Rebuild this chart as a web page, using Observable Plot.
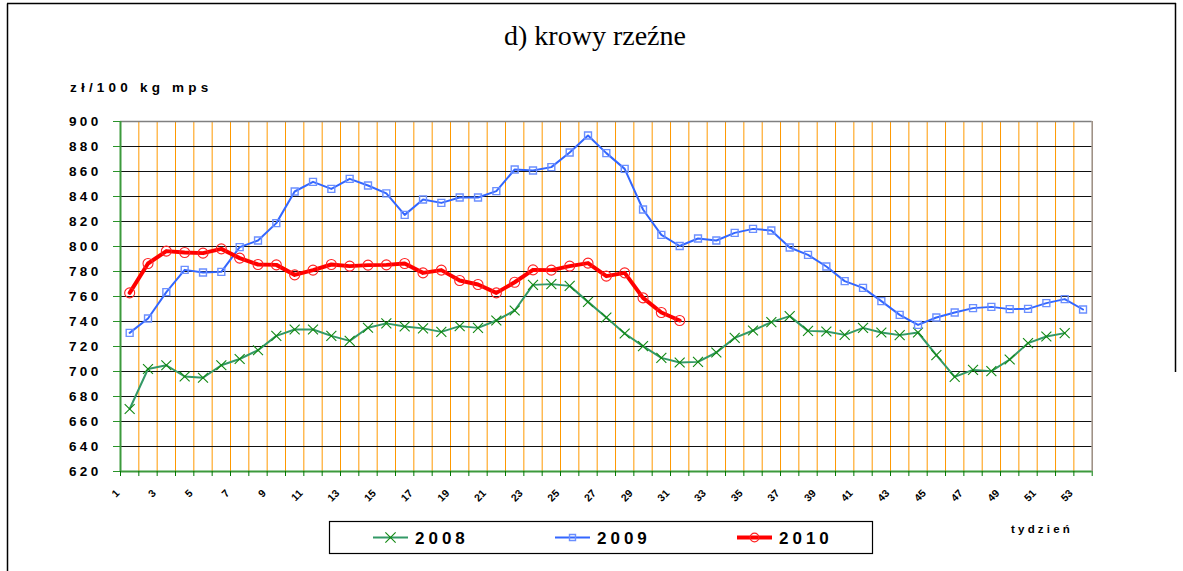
<!DOCTYPE html>
<html>
<head>
<meta charset="utf-8">
<script src="https://cdn.jsdelivr.net/npm/d3@7"></script>
<script src="https://cdn.jsdelivr.net/npm/@observablehq/plot@0.6"></script>
<style>
  html, body { margin: 0; padding: 0; background: #fff; }
  #chart { position: relative; width: 1183px; height: 571px; overflow: hidden; }
  #chart svg { display: block; }
</style>
</head>
<body>
<div id="chart"></div>
<script>
// ---- data (zł/100 kg mps, by week) ----
const years = ["2008", "2009", "2010"];
const values2008 = [670, 702, 705, 696, 695, 705, 710, 717, 728.5, 733.6, 733.6, 728.5, 724.5, 735, 738.5, 736,
  734.5, 731.7, 736.3, 734.9, 740.8, 748.8, 769.3, 769.9, 768.5, 755.7, 743.2, 730.4, 720.3, 710.9, 707.2, 707.7,
  715.2, 726.9, 732.8, 739.5, 744.3, 732.5, 732, 729.3, 734.9, 731.2, 729.1, 731.2, 713.1, 695.7, 701.3, 700.3,
  709.6, 722.7, 728, 730.7];
const values2009 = [730.9, 742.4, 763.5, 781.3, 779.2, 779.7, 799.5, 804.8, 818.7, 844, 851.7, 846.1, 854.1, 848.8,
  842.5, 825.3, 837.6, 834.9, 839.2, 839.2, 844.3, 861.6, 860.8, 863.5, 875.2, 888.8, 874.7, 862.1, 829.6, 809.3,
  800.4, 806.4, 804.8, 810.9, 814.1, 812.8, 799.2, 793.3, 784, 772.3, 766.9, 756.3, 745.3, 737.3, 743.2, 747.2,
  750.7, 751.7, 749.9, 750.1, 754.7, 757.9, 749.6];
const values2010 = [762.9, 786.4, 796.3, 795.2, 794.7, 798.1, 790.7, 785.6, 785.3, 777.3, 781.1, 785.6, 784.3, 785.1,
  785.3, 786.4, 778.9, 781.1, 772.8, 769.6, 762.9, 771.4, 781.3, 781.1, 784.3, 786.7, 776.3, 778.9, 758.9, 747.2,
  740.8];
const weekCount = 53;
const weekLabels = [1, 3, 5, 7, 9, 11, 13, 15, 17, 19, 21, 23, 25, 27, 29, 31, 33, 35, 37, 39, 41, 43, 45, 47, 49, 51, 53];
const yTicks = [620, 640, 660, 680, 700, 720, 740, 760, 780, 800, 820, 840, 860, 880, 900];
const titleText = "d) krowy rzeźne";
const yLabelText = "zł/100 kg mps";
const xLabelText = "tydzień";

const toRows = (year, vals) => vals.map((v, i) => ({year, week: i + 1, value: v}));
const rows2008 = toRows("2008", values2008);
const rows2009 = toRows("2009", values2009);
const rows2010 = toRows("2010", values2010);

// category boundaries (between weeks)
const boundaries = Array.from({length: weekCount + 1}, (_, i) => i + 0.5);
const innerBoundaries = boundaries.slice(1, -1);
const innerY = yTicks.slice(1, -1);

const GREEN_AX = "#3c9a3c";
const FONT = "'Liberation Sans', Arial, sans-serif";

const chart = Plot.plot({
  width: 1183,
  height: 571,
  marginLeft: 120,
  marginRight: 91.3,
  marginTop: 121,
  marginBottom: 100,
  x: {domain: [0.5, weekCount + 0.5], axis: null},
  y: {domain: [620, 900], axis: null},
  style: {fontFamily: FONT, background: "#fff", overflow: "visible"},
  marks: [
    Plot.ruleX(innerBoundaries, {stroke: "#ff9900", strokeWidth: 1}),
    Plot.ruleY(innerY, {stroke: "#111", strokeWidth: 1}),
    Plot.ruleY([900], {stroke: "#808080", strokeWidth: 1.5}),
    Plot.ruleX([weekCount + 0.5], {stroke: "#9a8c80", strokeWidth: 1.5}),
    // axes lines
    Plot.ruleX([0.5], {stroke: GREEN_AX, strokeWidth: 2}),
    Plot.ruleY([620], {stroke: GREEN_AX, strokeWidth: 2}),
    // tick marks
    Plot.axisX(boundaries, {anchor: "bottom", tickSize: 5, stroke: "#007700", tickFormat: () => "", tickPadding: 0, label: null}),
    Plot.axisY(yTicks, {anchor: "left", tickSize: 7, stroke: "#2a922a", tickPadding: 12, label: null,
      fontSize: 13.5, fontWeight: "bold", fill: "#000"}),
    // rotated week labels
    Plot.text(weekLabels, {x: d => d, frameAnchor: "bottom", text: d => String(d), rotate: -45,
      textAnchor: "end", lineAnchor: "middle", dx: -12, dy: 20, fontSize: 10.5, fontWeight: "bold", fill: "#000"}),
    // 2008
    Plot.line(rows2008, {x: "week", y: "value", stroke: "#339966", strokeWidth: 2}),
    Plot.dot(rows2008, {x: "week", y: "value", symbol: "times", r: 4.6, stroke: "#118811", strokeWidth: 1.1}),
    // 2009
    Plot.line(rows2009, {x: "week", y: "value", stroke: "#3366ff", strokeWidth: 2}),
    Plot.dot(rows2009, {x: "week", y: "value", symbol: "square", r: 3.9, stroke: "#6b8fff", fill: "none", strokeWidth: 1.4}),
    // 2010
    Plot.line(rows2010, {x: "week", y: "value", stroke: "#ff0000", strokeWidth: 4}),
    Plot.dot(rows2010, {x: "week", y: "value", symbol: "circle", r: 5, stroke: "#ff2020", fill: "none", strokeWidth: 1.1})
  ]
});

document.getElementById("chart").appendChild(chart);

const svg = d3.select(chart);
// letter spacing for y tick labels
svg.selectAll('g[aria-label="y-axis tick label"] text').style("letter-spacing", "3.3px");

// outer frame
svg.append("line").attr("x1", 7.5).attr("x2", 7.5).attr("y1", 3.5).attr("y2", 571).attr("stroke", "#000").attr("stroke-width", 1.5);
svg.append("line").attr("x1", 7).attr("x2", 1176).attr("y1", 3.5).attr("y2", 3.5).attr("stroke", "#000").attr("stroke-width", 1.5);
svg.append("line").attr("x1", 1175.5).attr("x2", 1175.5).attr("y1", 3).attr("y2", 372).attr("stroke", "#000").attr("stroke-width", 1.5);

// title
svg.append("text").attr("x", 595).attr("y", 45).attr("text-anchor", "middle")
  .attr("font-family", "'Liberation Serif', 'Times New Roman', serif").attr("font-size", 28).attr("fill", "#000")
  .text(titleText);

// y label
svg.append("text").attr("x", 70).attr("y", 92).attr("text-anchor", "start")
  .attr("font-family", FONT).attr("font-weight", "bold").attr("font-size", 13.5).style("letter-spacing", "4.2px")
  .attr("fill", "#000").text(yLabelText);

// x label
svg.append("text").attr("x", 1011).attr("y", 533).attr("text-anchor", "start")
  .attr("font-family", FONT).attr("font-weight", "bold").attr("font-size", 11.5).style("letter-spacing", "3.2px")
  .attr("fill", "#000").text(xLabelText);

// legend
const lg = svg.append("g");
lg.append("rect").attr("x", 329.5).attr("y", 521.5).attr("width", 543).attr("height", 32)
  .attr("fill", "#fff").attr("stroke", "#000").attr("stroke-width", 1.2);
const legendItems = [
  {label: years[0], x: 373, color: "#339966", mcolor: "#118811", symbol: d3.symbolTimes, size: 70, sw: 2, msw: 1.1},
  {label: years[1], x: 555, color: "#3366ff", mcolor: "#6b8fff", symbol: d3.symbolSquare, size: 36, sw: 2, msw: 1.4},
  {label: years[2], x: 737, color: "#ff0000", mcolor: "#ff2020", symbol: d3.symbolCircle, size: 60, sw: 4, msw: 1.1}
];
for (const it of legendItems) {
  const cy = 537.5;
  lg.append("line").attr("x1", it.x).attr("x2", it.x + 35).attr("y1", cy).attr("y2", cy)
    .attr("stroke", it.color).attr("stroke-width", it.sw);
  lg.append("path").attr("d", d3.symbol(it.symbol, it.size)()).attr("transform", `translate(${it.x + 17.5},${cy})`)
    .attr("fill", "none").attr("stroke", it.mcolor).attr("stroke-width", it.msw);
  lg.append("text").attr("x", it.x + 42).attr("y", cy + 6.5).attr("text-anchor", "start")
    .attr("font-family", FONT).attr("font-weight", "bold").attr("font-size", 17).style("letter-spacing", "4px")
    .attr("fill", "#000").text(it.label);
}
</script>
</body>
</html>
